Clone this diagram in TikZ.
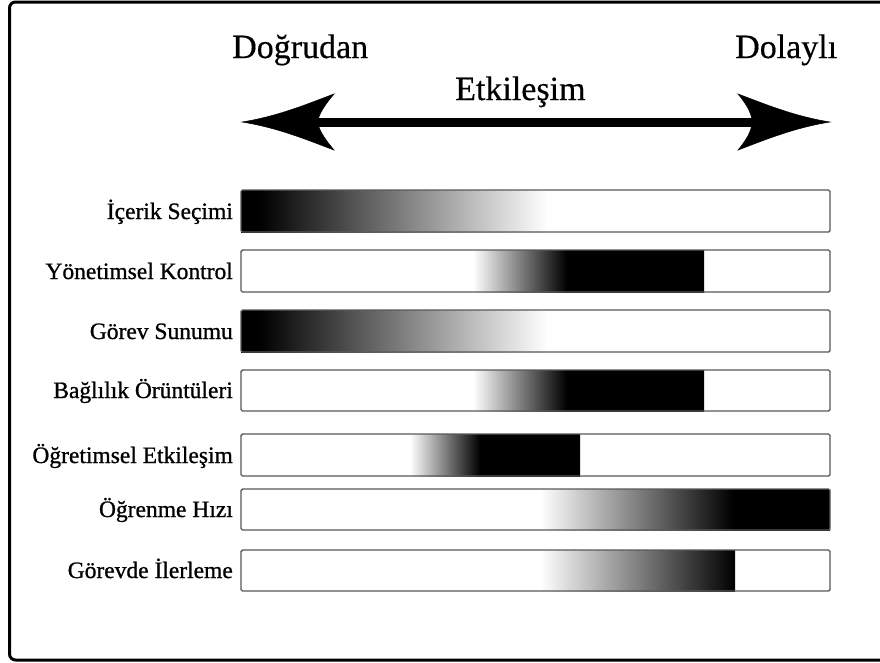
\documentclass[tikz,border=0pt]{standalone}
\usepackage{fontspec}
\setmainfont{Liberation Serif}
\pgfdeclarehorizontalshading{fadeA}{100bp}{color(0bp)=(black); color(28bp)=(black); color(75bp)=(white); color(100bp)=(white)}
\pgfdeclarehorizontalshading{fadeB}{100bp}{color(0bp)=(white); color(25bp)=(white); color(45.3bp)=(black); color(100bp)=(black)}
\pgfdeclarehorizontalshading{fadeC}{100bp}{color(0bp)=(white); color(25bp)=(white); color(45.6bp)=(black); color(100bp)=(black)}
\pgfdeclarehorizontalshading{fadeD}{100bp}{color(0bp)=(white); color(25bp)=(white); color(58.3bp)=(black); color(100bp)=(black)}
\pgfdeclarehorizontalshading{fadeE}{100bp}{color(0bp)=(white); color(25bp)=(white); color(75bp)=(black); color(100bp)=(black)}
\begin{document}
\begin{tikzpicture}[x=1pt,y=-1pt,
  title/.style={inner sep=0pt,anchor=base west,font=\fontsize{34}{40}\selectfont\addfontfeatures{FakeBold=0.4}},
  lbl/.style={inner sep=0pt,anchor=base east,font=\fontsize{23.5}{28}\selectfont\addfontfeatures{FakeBold=0.9}},
  barline/.style={draw=black!65,line width=1.4pt,rounded corners=1.5pt},
  headfill/.style={fill=black,draw=black,line width=0.5pt}]
\useasboundingbox (0,0) rectangle (880,662);
\fill[white] (0,0) rectangle (880,662);
% frame
\draw[line width=3pt,rounded corners=6pt] (885,2) -- (9.5,2) -- (9.5,660) -- (885,660);
% titles
\node[title] (dir) at (232,58) {Doğrudan};
\node[title] (ind) at (735,58) {Dolaylı};
\node[title] (etk) at (455,100) {Etkileşim};
% arrow
\coordinate (la) at (318,122);
\coordinate (ra) at (752,122);
\draw[line width=9pt] (la) -- (ra);
\fill[headfill] (242,122) .. controls (280,116) and (312,102) .. (334,94)
  .. controls (323,107) and (318,116) .. (318,122)
  .. controls (318,128) and (323,137) .. (334,150)
  .. controls (312,142) and (280,128) .. (242,122) -- cycle;
\fill[headfill] (830,122) .. controls (792,116) and (760,102) .. (738,94)
  .. controls (749,107) and (752,116) .. (752,122)
  .. controls (752,128) and (749,137) .. (738,150)
  .. controls (760,142) and (792,128) .. (830,122) -- cycle;
% bar 1
\shade[shading=fadeA] (241,190) rectangle (548,232);
\draw[barline] (241,190) rectangle (830,232);
\node[lbl] (l1) at (233,219) {İçerik Seçimi};
% bar 2
\shade[shading=fadeB] (473,250) rectangle (704,292);
\draw[barline] (241,250) rectangle (830,292);
\node[lbl] (l2) at (233,279) {Yönetimsel Kontrol};
% bar 3
\shade[shading=fadeA] (241,310) rectangle (548,352);
\draw[barline] (241,310) rectangle (830,352);
\node[lbl] (l3) at (233,339) {Görev Sunumu};
% bar 4
\shade[shading=fadeB] (473,370) rectangle (704,411);
\draw[barline] (241,370) rectangle (830,411);
\node[lbl] (l4) at (233,398) {Bağlılık Örüntüleri};
% bar 5
\shade[shading=fadeC] (410,434) rectangle (580,476);
\draw[barline] (241,434) rectangle (830,476);
\node[lbl] (l5) at (233,463) {Öğretimsel Etkileşim};
% bar 6
\shade[shading=fadeD] (540,489) rectangle (830,530);
\draw[barline] (241,489) rectangle (830,530);
\node[lbl] (l6) at (233,517) {Öğrenme Hızı};
% bar 7
\shade[shading=fadeE] (540,550) rectangle (735,591);
\draw[barline] (241,550) rectangle (830,591);
\node[lbl] (l7) at (233,578) {Görevde İlerleme};
\end{tikzpicture}
\end{document}
